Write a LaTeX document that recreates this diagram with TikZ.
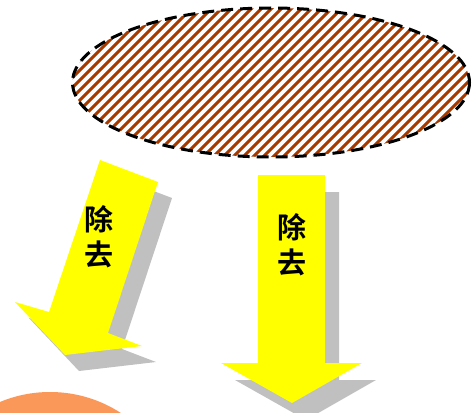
\documentclass[tikz,border=0pt]{standalone}
\usepackage{fontspec}
\newfontfamily\cjk{Noto Sans CJK SC}[BoldFont={Noto Sans CJK SC Bold}]
\definecolor{hatchbrown}{RGB}{165,58,0}
\definecolor{shadowgray}{RGB}{192,192,192}
\definecolor{arrowyellow}{RGB}{255,255,0}
\definecolor{blobor}{RGB}{249,152,88}
\begin{document}
\begin{tikzpicture}[x=1pt,y=-1pt,
  shadowfill/.style={fill=shadowgray,draw=none},
  arrowfill/.style={fill=arrowyellow,draw=none},
  lbl/.style={font=\cjk\bfseries\fontsize{29}{36}\selectfont,text=black,inner sep=0pt,align=center},
  hatchline/.style={draw=hatchbrown,line width=3pt},
  rimline/.style={draw=black,line width=3pt,dash pattern=on 12pt off 7pt}]
\useasboundingbox (0,0) rectangle (473,412);
\fill[white] (0,0) rectangle (473,412);
% hatched ellipse
\begin{scope}
  \clip (271,82.5) ellipse [x radius=198.5, y radius=74.5];
  \foreach \c in {70,80,...,650} \draw[hatchline] (\c,0) -- (\c-180,180);
\end{scope}
\draw[rimline] (271,82.5) ellipse [x radius=198.5, y radius=74.5];
% orange blob
\begin{scope}
  \clip (0,0) rectangle (473,412);
  \fill[blobor] (50,522) circle (130);
\end{scope}
% left arrow shadow and arrow
\fill[shadowfill,shift={(14,16)}] (100,160) -- (158,182) -- (108,333) -- (142,346) -- (65,355) -- (15,302) -- (49,312) -- cycle;
\fill[arrowfill] (100,160) -- (158,182) -- (108,333) -- (142,346) -- (65,355) -- (15,302) -- (49,312) -- cycle;
% right arrow shadow and arrow
\begin{scope}
  \clip (0,0) rectangle (473,412);
  \fill[shadowfill,shift={(14,17)}] (258,175) -- (325,175) -- (325,363) -- (362,363) -- (292,403) -- (221,363) -- (258,363) -- cycle;
\end{scope}
\fill[arrowfill] (258,175) -- (325,175) -- (325,363) -- (362,363) -- (292,403) -- (221,363) -- (258,363) -- cycle;
% labels
\node[lbl] (lt1) at (99,219) {除};
\node[lbl] (lt2) at (99,254) {去};
\node[lbl] (rt1) at (292,227) {除};
\node[lbl] (rt2) at (292,262) {去};
\end{tikzpicture}
\end{document}
